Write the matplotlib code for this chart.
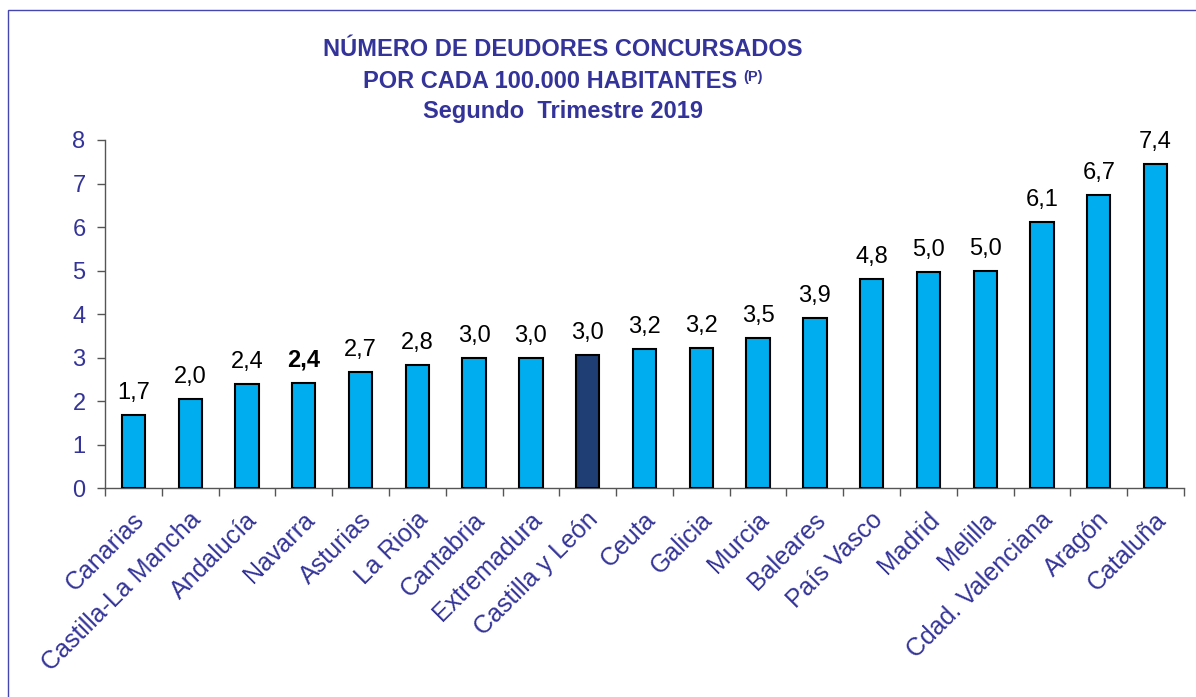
import matplotlib
matplotlib.use("Agg")
import matplotlib.pyplot as plt
from matplotlib.patches import Rectangle
from matplotlib.ticker import FixedLocator
import matplotlib.transforms as mtransforms

plt.rcParams['font.family'] = ['Liberation Sans', 'DejaVu Sans']

categories = ["Canarias", "Castilla-La Mancha", "Andalucía", "Navarra", "Asturias",
              "La Rioja", "Cantabria", "Extremadura", "Castilla y León", "Ceuta",
              "Galicia", "Murcia", "Baleares", "País Vasco", "Madrid", "Melilla",
              "Cdad. Valenciana", "Aragón", "Cataluña"]
values = [1.68, 2.04, 2.40, 2.42, 2.66, 2.84, 2.99, 3.00, 3.06, 3.20, 3.22, 3.46,
          3.91, 4.80, 4.96, 5.00, 6.12, 6.74, 7.45]
value_labels = ["1,7", "2,0", "2,4", "2,4", "2,7", "2,8", "3,0", "3,0", "3,0", "3,2",
                "3,2", "3,5", "3,9", "4,8", "5,0", "5,0", "6,1", "6,7", "7,4"]
highlight = "Castilla y León"
bold_label = "Navarra"
yticks = [0, 1, 2, 3, 4, 5, 6, 7, 8]
title_lines = ["NÚMERO DE DEUDORES CONCURSADOS", "POR CADA 100.000 HABITANTES",
               "Segundo  Trimestre 2019"]
title_sup = "(P)"

W, H = 1196, 697
fig = plt.figure(figsize=(W / 100, H / 100), dpi=100)
fig.patch.set_facecolor("white")

TXT = "#333399"
LIGHT = "#00AEEF"
DARK = "#1F3F74"

# outer border (only top and left visible)
fig.add_artist(Rectangle((8 / W, -0.1), 1.2, 1 - 10 / H + 0.1, transform=fig.transFigure,
                         fill=False, edgecolor="#4646B0", linewidth=1.0))

ax = fig.add_axes([105 / W, 1 - 488.3 / H, (1184 - 105) / W, (488.3 - 140) / H])
x = list(range(len(categories)))
colors = [DARK if c == highlight else LIGHT for c in categories]
ax.bar(x, values, width=0.41, color=colors, edgecolor="black", linewidth=1.5, zorder=3)

ax.set_xlim(-0.5, len(categories) - 0.5)
ax.set_ylim(0, 8)
ax.set_yticks(yticks)
ax.set_yticklabels([str(t) for t in yticks])

for s in ["top", "right"]:
    ax.spines[s].set_visible(False)
for s in ["left", "bottom"]:
    ax.spines[s].set_color("#555555")
    ax.spines[s].set_linewidth(1.0)

ax.tick_params(axis="y", direction="out", length=6, width=1, color="#555555",
               labelsize=17, labelcolor=TXT, pad=8)
ax.set_xticks(x)
ax.set_xticklabels(categories, rotation=45, ha="right", va="center",
                   rotation_mode="anchor", fontsize=18, color=TXT)
ax.tick_params(axis="x", which="major", length=0, pad=20)
ax.xaxis.set_minor_locator(FixedLocator([i - 0.5 for i in range(len(categories) + 1)]))
ax.tick_params(axis="x", which="minor", direction="out", length=6, width=1, color="#555555")
offset = mtransforms.ScaledTranslation(7 / 100, 0, fig.dpi_scale_trans)
for lab in ax.get_xticklabels():
    lab.set_transform(lab.get_transform() + offset)

for xi, v, lab, c in zip(x, values, value_labels, categories):
    ax.annotate(lab, (xi, v), xytext=(0, 8), textcoords="offset points",
                ha="center", va="bottom", fontsize=17, color="black",
                fontweight="bold" if c == bold_label else "normal")

cx = 563 / W
ys = [50, 81, 111.5]
texts = []
for line, yy in zip(title_lines, ys):
    t = fig.text(cx, 1 - yy / H, line, ha="center", va="center", fontsize=17,
                 fontweight="bold", color=TXT)
    texts.append(t)
# shift line 2 left so that line + superscript is centred
fig.canvas.draw()
r = fig.canvas.get_renderer()
sup = fig.text(0, 0, title_sup, fontsize=10.5, fontweight="bold", color=TXT)
sw = sup.get_window_extent(r).width + 6
t2 = texts[1]
t2.set_position((cx - sw / 2 / W, 1 - ys[1] / H))
fig.canvas.draw()
bb = t2.get_window_extent(r)
sup.set_position(((bb.x1 + 6) / W, (bb.y1 - 12) / H))

fig.savefig("out.png", dpi=100, facecolor="white")
